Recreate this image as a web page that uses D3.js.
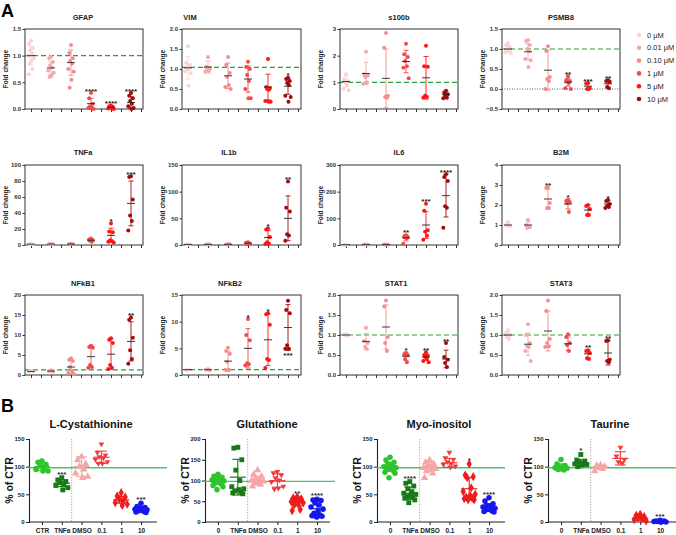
<!DOCTYPE html>
<html><head><meta charset="utf-8">
<script src="https://cdn.jsdelivr.net/npm/d3@7"></script>
<style>body{margin:0;background:#fff}svg{display:block}</style>
</head><body><svg id="c" width="676" height="535"></svg>
<script>
// ================= DATA =================
const doseLabels = ["0 μM","0.01 μM","0.10 μM","1 μM","5 μM","10 μM"];
const geneNames = ["GFAP","VIM","s100b","PSMB8","TNFa","IL1b","IL6","B2M","NFkB1","NFkB2","STAT1","STAT3"];

const gfapPoints = [[1.28,1.22,1.15,1.1,1.05,1.0,0.95,0.9,0.85,0.75,0.65],[0.98,0.95,0.88,0.82,0.78,0.72,0.68,0.62,0.6],[1.2,1.05,0.95,0.9,0.85,0.75,0.7,0.55,0.4],[0.3,0.2,0.1,0.05,0.03,0.02,0.0],[0.06,0.05,0.04,0.03,0.02,0.01,0.0],[0.3,0.25,0.2,0.15,0.1,0.05,0.02,0.0]];
const gfapMean = [1.0,0.77,0.87,0.1,0.03,0.12];
const gfapSD = [0.17,0.12,0.24,0.1,0.02,0.11];
const gfapStars = ["","","","****","****","****"];
const gfapTicks = [0,0.5,1.0,1.5];

const vimPoints = [[1.57,1.15,1.1,1.05,1.0,0.95,0.9,0.58],[1.3,1.05,1.0,0.97,0.95,0.93],[1.3,1.1,0.9,0.8,0.6,0.55,0.5],[1.18,1.05,1.0,0.85,0.7,0.5,0.27,0.27],[1.25,0.55,0.52,0.5,0.48,0.2,0.18,0.18],[0.78,0.75,0.7,0.65,0.6,0.33,0.3,0.18]];
const vimMean = [1.03,1.05,0.83,0.75,0.55,0.57];
const vimSD = [0.28,0.15,0.32,0.33,0.32,0.2];
const vimStars = ["","","","","","*"];
const vimTicks = [0,0.5,1.0,1.5,2.0];

const s100bPoints = [[1.3,1.1,1.05,1.0,0.9,0.75,0.7],[2.15,1.3,1.25,1.2,1.0,0.95],[2.85,2.3,0.5,0.45,0.42],[2.45,2.05,1.95,1.8,1.6,1.55,1.15],[2.37,1.6,1.58,0.5,0.45,0.42],[0.68,0.62,0.55,0.5,0.42,0.4]];
const s100bMean = [1.03,1.33,1.15,1.78,1.17,0.55];
const s100bSD = [0.2,0.42,1.1,0.42,0.8,0.12];
const s100bStars = ["","","","","",""];
const s100bTicks = [0,1,2,3];

const psmb8Points = [[1.15,1.1,1.05,1.0,0.95,0.92,0.9],[1.22,1.2,1.1,1.0,0.95,0.75,0.72,0.55],[1.07,0.95,0.3,0.25,0.2,0.0],[0.32,0.22,0.2,0.18,0.15,0.02,0.0],[0.15,0.14,0.02,0.0,0.0],[0.22,0.2,0.18,0.05,0.02]];
const psmb8Mean = [1.0,0.93,0.47,0.17,0.07,0.13];
const psmb8SD = [0.08,0.2,0.5,0.1,0.07,0.09];
const psmb8Stars = ["","","","**","***","**"];
const psmb8Ticks = [-0.5,0,0.5,1.0,1.5];

const tnfaPoints = [[1.2,1.0,0.8,1.1],[1.3,1.0,0.9,1.1],[1.4,1.0,0.8,1.2],[8,7,6,5,4],[27,17,16,6,5,4,3],[86,85,57,37,30,18]];
const tnfaMean = [1,1.1,1.1,6,12,52];
const tnfaSD = [0.2,0.2,0.3,1.5,9,28];
const tnfaStars = ["","","","","*","***"];
const tnfaTicks = [0,20,40,60,80,100];

const il1bPoints = [[1,1.2,0.8],[1.3,1,0.9],[1.5,1,1.2],[5,4,3,2],[31,29,15,5,3,2],[119,70,63,20,18,8]];
const il1bMean = [1,1.1,1.2,3.5,14,50];
const il1bSD = [0.2,0.2,0.3,1.3,13,42];
const il1bStars = ["","","","","*","**"];
const il1bTicks = [0,50,100,150];

const il6Points = [[1,1.2],[2,1.5,1],[2,1.5,1],[37,33,30,28,25,5],[155,128,55,50,35,20],[265,255,240,145,140,65]];
const il6Mean = [1,1.5,1.5,27,75,185];
const il6SD = [0.3,0.5,0.5,12,50,80];
const il6Stars = ["","","","**","***","****"];
const il6Ticks = [0,100,200,300];

const b2mPoints = [[1.15,1.0,0.95],[1.25,1.0,0.9,0.85],[2.88,2.85,2.1,1.85,1.85],[2.25,2.2,2.15,2.1,1.65],[2.0,1.95,1.8,1.5,1.5],[2.25,2.2,2.05,1.95,1.9,1.85]];
const b2mMean = [1.0,1.0,2.3,2.05,1.75,2.05];
const b2mSD = [0.1,0.17,0.5,0.25,0.25,0.18];
const b2mStars = ["","","**","*","","*"];
const b2mTicks = [0,1,2,3,4];

const nfkb1Points = [[1.0,0.9,0.8],[1.2,1.0,0.8],[4.2,3.8,3.5,2.0,1.0,0.5,0.3],[7.3,7.0,6.8,2.5,2.0,1.8],[9.2,8.8,8.0,2.5,1.8,1.5],[14.4,13.8,9.3,6.2,4.0,2.8]];
const nfkb1Mean = [0.9,1.0,2.0,4.6,5.2,8.4];
const nfkb1SD = [0.1,0.2,1.7,2.8,3.8,4.9];
const nfkb1Stars = ["","","","","","**"];
const nfkb1Ticks = [0,5,10,15,20];

const nfkb2Points = [[1.0,0.9],[1.1,1.0,0.9],[5.1,4.5,4.0,2.5,1.0,1.0],[10.5,7.5,6.5,2.2,2.0,1.8],[11.6,11.4,9.4,3.0,2.8,1.3],[13.9,12.2,11.6,5.6,4.9,4.9]];
const nfkb2Mean = [1,1,2.6,5.0,6.6,8.9];
const nfkb2SD = [0.1,0.1,1.9,3.7,4.8,4.3];
const nfkb2Stars = ["","","","*","*","***"];
const nfkb2Ticks = [0,5,10,15];

const stat1Points = [[1.02,1.0,0.98],[1.18,0.85,0.8,0.7,0.65],[1.86,1.71,0.95,0.8,0.6],[0.55,0.52,0.5,0.4,0.32],[0.57,0.5,0.48,0.45,0.4,0.35,0.32],[0.8,0.45,0.38,0.3,0.2]];
const stat1Mean = [1.0,0.84,1.2,0.47,0.45,0.4];
const stat1SD = [0.02,0.2,0.55,0.1,0.08,0.22];
const stat1Stars = ["","","","*","**","**"];
const stat1Ticks = [0,0.5,1.0,1.5,2.0];

const stat3Points = [[1.12,1.05,1.0,0.95,0.9],[1.27,1.0,0.8,0.72,0.7,0.6,0.35],[1.86,1.6,0.9,0.8,0.72,0.7],[1.02,0.95,0.8,0.75,0.6],[0.62,0.6,0.55,0.42,0.4],[0.87,0.85,0.38,0.35,0.32]];
const stat3Mean = [1.0,0.77,1.1,0.78,0.53,0.55];
const stat3SD = [0.08,0.28,0.5,0.17,0.1,0.3];
const stat3Stars = ["","","","","**","**"];
const stat3Ticks = [0,0.5,1.0,1.5,2.0];

const refLinesA = [1.0,1.04,1.0,1.0,null,null,null,null,1.3,1.0,1.0,1.0];

// Panel B
const metNames = ["L-Cystathionine","Glutathione","Myo-inositol","Taurine"];
const cystLabels = ["CTR","TNFa","DMSO","0.1","1","10"];
const treatLabels = ["0","TNFa","DMSO","0.1","1","10"];

const cystPoints = [[110,108,104,101,99,95,92,92],[80,76,73,71,69,66,62,58],[118,112,105,100,95,88,82,80],[140,125,120,117,115,112,108,105,105],[53,47,45,41,38,35,32,30],[34,28,26,25,24,23,22,21,20,19,18,17]];
const cystMean = [100,70,100,117,40,23];
const cystSD = [7,6,18,11,6,5];
const cystStars = ["","***","","","","***"];
const cystTicks = [0,50,100,150];

const glutPoints = [[115,110,108,105,103,101,99,97,95,92,88,85,78],[180,178,150,125,100,85,80,78,75,72,70,68],[125,115,110,106,103,100,98,96,93,90,86],[120,117,112,105,100,95,85,80,78],[61,58,56,53,51,49,46,43,41,30,27],[55,53,52,46,41,36,31,26,21,17,15,14,13,12]];
const glutMean = [100,108,100,100,48,32];
const glutSD = [10,43,10,16,9,20];
const glutStars = ["","","","","**","****"];
const glutTicks = [0,50,100,150,200];

const myoPoints = [[117,112,108,105,102,100,98,96,95,93,90,88,80],[73,70,65,60,55,52,50,48,46,45,43,40,35],[112,108,105,102,100,98,96,95,92,88,80],[125,115,112,108,105,103,100,98],[105,85,82,80,62,55,50,48,45,43,42,40,40],[44,38,33,30,28,27,25,24,22,20,19,18]];
const myoMean = [100,52,100,107,60,26];
const myoSD = [8,11,8,8,20,7];
const myoStars = ["","****","","","*","****"];
const myoTicks = [0,50,100,150];

const taurPoints = [[113,105,102,100,99,98,97,96,95,94],[122,112,110,108,106,105,104,103,100],[103,102,100,98,96,92],[134,118,112,108,106],[14,12,10,8,6,4,2],[3,2,2,1,1,1,0,0]];
const taurMean = [100,107,100,115,7,1];
const taurSD = [5,6,3,12,4,1];
const taurStars = ["","*","","","","***"];
const taurTicks = [0,50,100,150];

const refLineB = 98;

// ================= RENDER =================
const FONT = '"Liberation Sans", Arial, Helvetica, sans-serif';
const svg = d3.select("#c").attr("font-family", FONT);

const doseColors = ["#fbd2d2","#f6a7a7","#f38d8d","#f14a4a","#ff1414","#a30a0a"];
const treatColors = ["#2ec42e","#177a17","#f6a6a6","#f23b3b","#ee1c1c","#1616ee"];
const jit = [0,-2,2,-1,1,-3,3,0.5,-1.5,1.5,-2.5,2.5,-0.5,0];

const panelsA = [
  [gfapPoints,gfapMean,gfapSD,gfapStars,gfapTicks,".1f"],
  [vimPoints,vimMean,vimSD,vimStars,vimTicks,".1f"],
  [s100bPoints,s100bMean,s100bSD,s100bStars,s100bTicks,"d"],
  [psmb8Points,psmb8Mean,psmb8SD,psmb8Stars,psmb8Ticks,".1f"],
  [tnfaPoints,tnfaMean,tnfaSD,tnfaStars,tnfaTicks,"d"],
  [il1bPoints,il1bMean,il1bSD,il1bStars,il1bTicks,"d"],
  [il6Points,il6Mean,il6SD,il6Stars,il6Ticks,"d"],
  [b2mPoints,b2mMean,b2mSD,b2mStars,b2mTicks,"d"],
  [nfkb1Points,nfkb1Mean,nfkb1SD,nfkb1Stars,nfkb1Ticks,"d"],
  [nfkb2Points,nfkb2Mean,nfkb2SD,nfkb2Stars,nfkb2Ticks,"d"],
  [stat1Points,stat1Mean,stat1SD,stat1Stars,stat1Ticks,".1f"],
  [stat3Points,stat3Mean,stat3SD,stat3Stars,stat3Ticks,".1f"]
].map((a,k)=>({name:geneNames[k],pts:a[0],mean:a[1],sd:a[2],stars:a[3],ticks:a[4],fmt:a[5],ref:refLinesA[k]}));

const colX = [[25,143],[182,301],[340,458],[502,620]];
const rowY = [[29,109],[165,245],[295,375]];
const titleY = [20,155,286];
const titleX = [83,190,399,561, 83,229,399,561, 83,230,396,561];

panelsA.forEach((p,k)=>{
  const c = k%4, r = Math.floor(k/4);
  const [x0,x1] = colX[c], [y0,y1] = rowY[r];
  const dom = [p.ticks[0], p.ticks[p.ticks.length-1]];
  const x = d3.scaleLinear().domain([0,5]).range([x0+6, x0+106]);
  const y = d3.scaleLinear().domain(dom).range([y1,y0]);
  const cl = v => Math.max(dom[0], Math.min(dom[1], v));
  const g = svg.append("g");

  if (p.ref != null) g.append("line").attr("x1",x0).attr("x2",x1).attr("y1",y(p.ref)).attr("y2",y(p.ref))
     .attr("stroke","#25a03a").attr("stroke-width",1.2).attr("stroke-dasharray","5,3");
  if (dom[0] < 0) g.append("line").attr("x1",x0).attr("x2",x1).attr("y1",y(0)).attr("y2",y(0))
     .attr("stroke","#333").attr("stroke-width",0.8).attr("stroke-dasharray","1,1.5");

  const ay = g.append("g").attr("transform",`translate(${x0},0)`)
    .call(d3.axisLeft(y).tickValues(p.ticks).tickFormat(d3.format(p.fmt)).tickSize(2.5).tickPadding(1.5));
  ay.select(".domain").remove();
  ay.selectAll("line").attr("stroke","#333");
  ay.selectAll("text").attr("font-size",6).attr("font-weight","bold").attr("fill","#333").attr("font-family",FONT);

  const tv = d3.range(6).flatMap(i=>[i,i+0.5]);
  const ax = g.append("g").attr("transform",`translate(0,${y1})`)
    .call(d3.axisBottom(x).tickValues(tv).tickFormat("").tickSize(3));
  ax.select(".domain").remove();
  ax.selectAll("line").attr("stroke","#333");

  g.append("rect").attr("x",x0).attr("y",y0).attr("width",x1-x0).attr("height",y1-y0)
    .attr("fill","none").attr("stroke","#333").attr("stroke-width",1);

  p.pts.forEach((vals,i)=>{
    const cx = x(i), col = doseColors[i], m = p.mean[i], s = p.sd[i];
    const hi = cl(m+s), lo = cl(m-s);
    const eb = g.append("g").attr("stroke",col).attr("stroke-width",0.9);
    eb.append("line").attr("x1",cx).attr("x2",cx).attr("y1",y(hi)).attr("y2",y(lo));
    eb.append("line").attr("x1",cx-2.5).attr("x2",cx+2.5).attr("y1",y(hi)).attr("y2",y(hi));
    eb.append("line").attr("x1",cx-2.5).attr("x2",cx+2.5).attr("y1",y(lo)).attr("y2",y(lo));
    g.selectAll(null).data(vals).enter().append("circle")
      .attr("cx",(v,j)=>cx + jit[j%jit.length]*0.9).attr("cy",v=>y(v)).attr("r",2).attr("fill",col);
    g.append("line").attr("x1",cx-4).attr("x2",cx+4).attr("y1",y(m)).attr("y2",y(m))
      .attr("stroke","#222").attr("stroke-width",0.9);
    if (p.stars[i]) {
      const below = (p.name === "NFkB2" && i === 5);
      const sy = below ? y(d3.min(vals)) + 9 : y(cl(Math.max(d3.max(vals), m+s))) + 0.5;
      g.append("text").attr("x",cx).attr("y",sy).attr("text-anchor","middle")
        .attr("font-size",8).attr("font-weight","bold").attr("fill","#222").text(p.stars[i]);
    }
  });

  g.append("text").attr("x",titleX[k]).attr("y",titleY[r]).attr("text-anchor","middle")
    .attr("font-size",7.5).attr("font-weight","bold").attr("fill","#222").text(p.name);
  g.append("text").attr("transform",`translate(${x0-17},${(y0+y1)/2}) rotate(-90)`)
    .attr("text-anchor","middle").attr("font-size",6.5).attr("font-weight","bold").attr("fill","#222").text("Fold change");
});

// Legend
const lg = svg.append("g");
doseLabels.forEach((d,i)=>{
  const yy = 35 + i*12.8;
  lg.append("circle").attr("cx",639).attr("cy",yy).attr("r",2.3).attr("fill",doseColors[i]);
  lg.append("text").attr("x",647).attr("y",yy+2.6).attr("font-size",7.5).attr("fill","#222").text(d);
});

svg.append("text").attr("x",1).attr("y",17).attr("font-size",18).attr("font-weight","bold").text("A");
svg.append("text").attr("x",1).attr("y",412).attr("font-size",18).attr("font-weight","bold").text("B");

// Panel B
const panelsB = [
  [cystPoints,cystMean,cystSD,cystStars,cystTicks,cystLabels],
  [glutPoints,glutMean,glutSD,glutStars,glutTicks,treatLabels],
  [myoPoints,myoMean,myoSD,myoStars,myoTicks,treatLabels],
  [taurPoints,taurMean,taurSD,taurStars,taurTicks,treatLabels]
].map((a,k)=>({name:metNames[k],pts:a[0],mean:a[1],sd:a[2],stars:a[3],ticks:a[4],labels:a[5]}));

const axisXB = [29,205,377,548];
const axisEndB = [157,330,505,676];
const greenEndB = [167,335,505,676];
const yTopB = 439, yBotB = 522;
const triDown = {draw(ctx,size){const a=Math.sqrt(size)*0.95; ctx.moveTo(0,a*0.6); ctx.lineTo(-a*0.62,-a*0.45); ctx.lineTo(a*0.62,-a*0.45); ctx.closePath();}};
const shapes = [d3.symbolCircle,d3.symbolSquare,d3.symbolTriangle,triDown,d3.symbolDiamond,d3.symbolCircle];

panelsB.forEach((p,k)=>{
  const ax0 = axisXB[k];
  const dom = [p.ticks[0], p.ticks[p.ticks.length-1]];
  const x = d3.scaleLinear().domain([0,5]).range([ax0+13, ax0+13+5*19.8]);
  const y = d3.scaleLinear().domain(dom).range([yBotB,yTopB]);
  const g = svg.append("g");

  g.append("line").attr("x1",x(1.5)).attr("x2",x(1.5)).attr("y1",yTopB).attr("y2",yBotB)
    .attr("stroke","#999").attr("stroke-width",0.9).attr("stroke-dasharray","1.2,1.5");

  const ay = g.append("g").attr("transform",`translate(${ax0},0)`)
    .call(d3.axisLeft(y).tickValues(p.ticks).tickSize(3).tickPadding(1.5));
  ay.select(".domain").attr("stroke","#222").attr("stroke-width",1.1);
  ay.selectAll("line").attr("stroke","#222");
  ay.selectAll("text").attr("font-size",6).attr("font-weight","bold").attr("fill","#222").attr("font-family",FONT);

  const xa = g.append("g").attr("transform",`translate(0,${yBotB})`)
    .call(d3.axisBottom(x).tickValues(d3.range(6)).tickFormat(i=>p.labels[i]).tickSize(3).tickPadding(3).tickSizeOuter(0));
  xa.select(".domain").attr("d",`M${ax0},0H${axisEndB[k]}`).attr("stroke","#222").attr("stroke-width",1.1);
  xa.selectAll("line").attr("stroke","#222");
  xa.selectAll("text").attr("font-size",6.5).attr("font-weight","bold").attr("fill","#222").attr("font-family",FONT);

  g.append("line").attr("x1",ax0).attr("x2",greenEndB[k]).attr("y1",y(refLineB)).attr("y2",y(refLineB))
    .attr("stroke","#4cc46a").attr("stroke-width",1.4);

  p.pts.forEach((vals,i)=>{
    const cx = x(i), col = treatColors[i], m = p.mean[i], s = p.sd[i];
    const hi = m+s, lo = Math.max(dom[0], m-s);
    const eb = g.append("g").attr("stroke",col).attr("stroke-width",1.1);
    eb.append("line").attr("x1",cx).attr("x2",cx).attr("y1",y(hi)).attr("y2",y(lo));
    eb.append("line").attr("x1",cx-5.5).attr("x2",cx+5.5).attr("y1",y(hi)).attr("y2",y(hi));
    eb.append("line").attr("x1",cx-5.5).attr("x2",cx+5.5).attr("y1",y(lo)).attr("y2",y(lo));
    g.selectAll(null).data(vals).enter().append("path")
      .attr("d",d3.symbol().type(shapes[i]).size(24))
      .attr("transform",(v,j)=>`translate(${cx + jit[j%jit.length]*2},${y(v)})`)
      .attr("fill",col);
    g.append("line").attr("x1",cx-8).attr("x2",cx+8).attr("y1",y(m)).attr("y2",y(m))
      .attr("stroke",col).attr("stroke-width",1.2);
    if (p.stars[i]) {
      const sy = y(Math.max(d3.max(vals), hi)) - 1;
      g.append("text").attr("x",cx).attr("y",sy).attr("text-anchor","middle")
        .attr("font-size",8).attr("font-weight","bold").attr("fill","#333").text(p.stars[i]);
    }
  });

  g.append("text").attr("x",ax0+62).attr("y",428).attr("text-anchor","middle")
    .attr("font-size",11).attr("font-weight","bold").attr("fill","#111").text(p.name);
  g.append("text").attr("transform",`translate(${ax0-16},${(yTopB+yBotB)/2}) rotate(-90)`)
    .attr("text-anchor","middle").attr("font-size",10.5).attr("font-weight","bold").attr("fill","#111").text("% of CTR");
});
</script></body></html>
